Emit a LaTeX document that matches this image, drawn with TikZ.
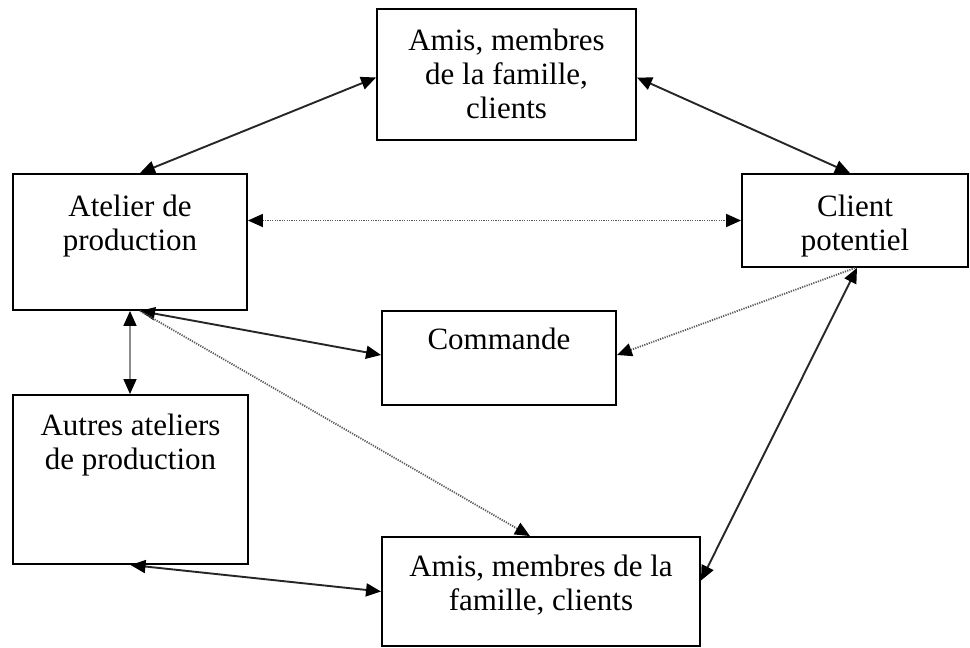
\documentclass[tikz,border=0pt]{standalone}
\usepackage{fontspec}
\setmainfont{Liberation Serif}
\usetikzlibrary{arrows.meta}
\begin{document}
\begin{tikzpicture}[x=1pt,y=-1pt,
  >={Triangle[length=15pt,width=13pt,color=black]},
  box/.style={draw=black,line width=1.9pt,rectangle,inner sep=0pt},
  lbl/.style={anchor=north,inner sep=0pt,align=center,
    font=\fontsize{31}{34}\selectfont},
  solidlink/.style={line width=1.9pt,draw=black!85},
  dotlink/.style={line width=1.8pt,draw=black!65,dash pattern=on 1.2pt off 1.2pt},
  greylink/.style={line width=1.6pt,draw=black!45}]
\useasboundingbox[fill=white] (0,0) rectangle (970,648);

% boxes
\node[box,minimum width=259pt,minimum height=131pt] (amisH) at (506.5,74.5) {};
\node[box,minimum width=234pt,minimum height=136pt] (atelier) at (130,242) {};
\node[box,minimum width=226pt,minimum height=93pt] (client) at (855,220.5) {};
\node[box,minimum width=234pt,minimum height=94pt] (commande) at (499,358) {};
\node[box,minimum width=235pt,minimum height=169pt] (autres) at (130.5,479.5) {};
\node[box,minimum width=318pt,minimum height=109pt] (amisB) at (541,591.5) {};

% labels
\node[lbl] (tAmisH) at ([yshift=-21pt]amisH.north) {Amis, membres\\de la famille,\\clients};
\node[lbl] (tAtelier) at ([yshift=-22pt]atelier.north) {Atelier de\\production};
\node[lbl] (tClient) at ([yshift=-22pt]client.north) {Client\\potentiel};
\node[lbl] (tCommande) at ([yshift=-18pt]commande.north) {Commande};
\node[lbl] (tAutres) at ([yshift=-20pt]autres.north) {Autres ateliers\\de production};
\node[lbl] (tAmisB) at ([yshift=-19pt]amisB.north) {Amis, membres de la\\famille, clients};

% connectors
\draw[solidlink,<->] ([xshift=10pt]atelier.north) -- ([yshift=-3pt]amisH.west);
\draw[solidlink,<->] ([yshift=-3pt]amisH.east) -- ([xshift=-5pt]client.north);
\draw[dotlink,<->] (client.west -| atelier.east) -- (client.west);
\draw[solidlink,<->] ([xshift=10pt]atelier.south) -- ([yshift=3pt]commande.west);
\draw[dotlink,->] (client.south) -- ([yshift=3pt]commande.east);
\draw[dotlink,->] ([xshift=10pt]atelier.south) -- ([xshift=-11pt]amisB.north);
\draw[greylink,<->] (atelier.south) -- (atelier.south |- autres.north);
\draw[solidlink,<->] (autres.south) -- (amisB.west);
\draw[solidlink,<->] ([yshift=11pt]amisB.east) -- ([xshift=2pt]client.south);
\end{tikzpicture}
\end{document}
